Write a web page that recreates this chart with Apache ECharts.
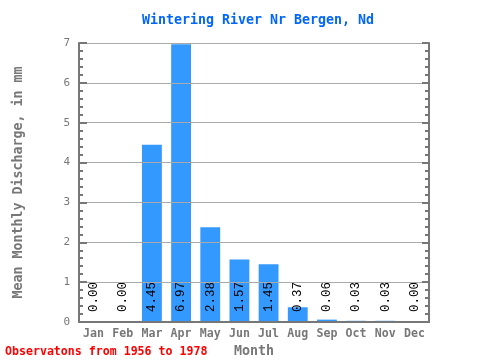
<!DOCTYPE html>
<html><head><meta charset="utf-8">
<script src="https://cdn.jsdelivr.net/npm/echarts@6/dist/echarts.min.js"></script>
<style>html,body{margin:0;padding:0;background:#fff}#c{width:480px;height:360px}</style>
</head><body><div id="c"></div>
<script>
const months = ['Jan','Feb','Mar','Apr','May','Jun','Jul','Aug','Sep','Oct','Nov','Dec'];
const discharge = [0.00,0.00,4.45,6.97,2.38,1.57,1.45,0.37,0.06,0.03,0.03,0.00];
const yTicks = [0,1,2,3,4,5,6,7];
const titleText = 'Wintering River Nr Bergen, Nd';
const yName = 'Mean Monthly Discharge, in mm';
const xName = 'Month';
const footer = 'Observatons from 1956 to 1978';

const FONT = '"DejaVu Sans Mono", "Liberation Mono", monospace';
const LFONT = '"Liberation Mono", "DejaVu Sans Mono", monospace';
const AX = '#777777';
const chart = echarts.init(document.getElementById('c'), null, {renderer:'canvas'});
chart.setOption({
  animation:false,
  backgroundColor:'#fff',
  title:{text:titleText,left:253,top:9,textAlign:'center',
    textStyle:{color:'#0066ff',fontFamily:FONT,fontWeight:'bold',fontSize:13.3}},
  graphic:[
    {type:'text',left:5,top:346,style:{text:footer,fill:'#ff0000',font:'bold 11.6px '+FONT}}
  ],
  grid:{left:79,right:51,top:43,bottom:38,containLabel:false,outerBoundsMode:'none'},
  xAxis:[
    {type:'category',data:months,position:'bottom',z:4,
     name:xName,nameLocation:'middle',nameGap:20,
     nameTextStyle:{color:AX,fontFamily:FONT,fontWeight:'bold',fontSize:13.3},
     axisLine:{lineStyle:{color:AX,width:2}},
     axisTick:{inside:true,length:5,lineStyle:{color:AX,width:2}},
     axisLabel:{color:AX,fontFamily:FONT,fontWeight:'bold',fontSize:11.6,margin:6}},
    {type:'category',data:months,position:'top',z:4,
     axisLine:{lineStyle:{color:AX,width:2}},
     axisTick:{inside:true,length:5,lineStyle:{color:AX,width:2}},
     axisLabel:{show:false}}
  ],
  yAxis:[
    {type:'value',min:yTicks[0],max:yTicks[yTicks.length-1],interval:1,position:'left',z:3,
     name:yName,nameLocation:'middle',nameGap:54,
     nameTextStyle:{color:AX,fontFamily:FONT,fontWeight:'bold',fontSize:13.3},
     axisLine:{show:true,lineStyle:{color:AX,width:2}},
     axisTick:{show:true,inside:true,length:8,lineStyle:{color:AX,width:2}},
     minorTick:{show:true,splitNumber:5,length:4,lineStyle:{color:AX,width:2}},
     splitLine:{show:true,lineStyle:{color:'#aaaaaa',width:1}},
     axisLabel:{color:AX,fontFamily:FONT,fontSize:11,margin:9}},
    {type:'value',min:yTicks[0],max:yTicks[yTicks.length-1],interval:1,position:'right',z:4,
     axisLine:{show:true,lineStyle:{color:AX,width:2}},
     axisTick:{show:true,inside:true,length:7,lineStyle:{color:AX,width:2}},
     minorTick:{show:true,splitNumber:5,length:4,lineStyle:{color:AX,width:2}},
     splitLine:{show:false},
     axisLabel:{show:false}}
  ],
  series:[{
    type:'bar',data:discharge,barWidth:'68%',z:2,
    itemStyle:{color:'#3399ff'},
    label:{show:true,position:'insideBottom',rotate:90,align:'left',verticalAlign:'middle',distance:10,
      color:'#000',fontFamily:LFONT,fontSize:12.5,
      formatter:p=>p.value.toFixed(2)},
    labelLayout:{rotate:90}
  }]
});
</script></body></html>
